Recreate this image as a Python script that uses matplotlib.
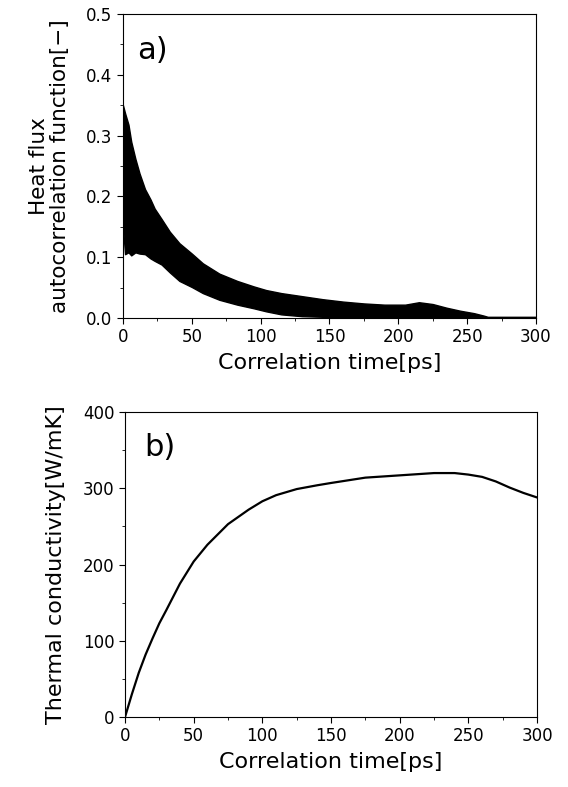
import numpy as np
import matplotlib
matplotlib.use("Agg")
import matplotlib.pyplot as plt
from matplotlib.ticker import MultipleLocator, FormatStrFormatter

plt.rcParams['font.family'] = ['DejaVu Sans']

# (a) heat flux autocorrelation: noisy band, read as upper/lower envelope
t_acf = [0, 1.5, 4, 6, 9, 12, 16, 20, 23, 28, 34, 41, 50, 58, 70, 83, 95, 104,
         115, 130, 145, 160, 175, 190, 205, 215, 225, 235, 245, 255, 262, 265, 300]
acf_upper = [0.35, 0.337, 0.318, 0.29, 0.262, 0.238, 0.212, 0.195, 0.18, 0.163, 0.142,
             0.123, 0.106, 0.09, 0.073, 0.061, 0.052, 0.046, 0.041, 0.036, 0.031, 0.027,
             0.024, 0.022, 0.022, 0.026, 0.023, 0.017, 0.012, 0.008, 0.004, 0.002, 0.002]
acf_lower = [0.15, 0.105, 0.108, 0.103, 0.108, 0.106, 0.105, 0.098, 0.094, 0.088, 0.075,
             0.061, 0.051, 0.041, 0.03, 0.022, 0.016, 0.011, 0.006, 0.003, 0.002, 0.002,
             0.002, 0.002, 0.002, 0.002, 0.002, 0.002, 0.002, 0.001, 0.001, 0.0, 0.0]

# (b) thermal conductivity vs correlation time
t_k = [0, 5, 10, 15, 20, 25, 30, 40, 50, 60, 75, 90, 100, 110, 125, 140, 150, 175, 200,
       225, 240, 250, 260, 270, 280, 290, 300]
kappa = [0, 30, 58, 82, 103, 123, 140, 175, 204, 226, 253, 272, 283, 291, 299, 304, 307,
         314, 317, 320, 320, 318, 315, 309, 301, 294, 288]

fig = plt.figure(figsize=(5.68, 7.87), dpi=100)
ax1 = fig.add_axes([0.2165, 0.5959, 0.7271, 0.3863])
ax2 = fig.add_axes([0.2201, 0.0889, 0.7254, 0.3875])

ax1.fill_between(t_acf, acf_lower, acf_upper, color='black', lw=1.0, edgecolor='black')
ax1.set_xlim(0, 300)
ax1.set_ylim(0, 0.5)
ax1.xaxis.set_major_locator(MultipleLocator(50))
ax1.xaxis.set_minor_locator(MultipleLocator(25))
ax1.yaxis.set_major_locator(MultipleLocator(0.1))
ax1.yaxis.set_minor_locator(MultipleLocator(0.05))
ax1.yaxis.set_major_formatter(FormatStrFormatter('%.1f'))
ax1.set_ylabel('Heat flux\nautocorrelation function[−]', fontsize=15.5, linespacing=1.05, labelpad=12)
ax1.set_xlabel('Correlation time[ps]', fontsize=16, labelpad=5)
ax1.text(10, 0.44, 'a)', fontsize=22, va='center')

ax2.plot(t_k, kappa, color='black', lw=1.6)
ax2.set_xlim(0, 300)
ax2.set_ylim(0, 400)
ax2.xaxis.set_major_locator(MultipleLocator(50))
ax2.xaxis.set_minor_locator(MultipleLocator(25))
ax2.yaxis.set_major_locator(MultipleLocator(100))
ax2.yaxis.set_minor_locator(MultipleLocator(50))
ax2.set_ylabel('Thermal conductivity[W/mK]', fontsize=16, labelpad=12)
ax2.set_xlabel('Correlation time[ps]', fontsize=16, labelpad=5)
ax2.text(14, 354, 'b)', fontsize=22, va='center')

for ax in (ax1, ax2):
    ax.tick_params(which='major', direction='out', length=4, width=0.8, labelsize=12)
    ax.tick_params(which='minor', direction='out', length=2, width=0.6)
    for s in ax.spines.values():
        s.set_linewidth(0.8)

fig.savefig('out.png', dpi=100)
